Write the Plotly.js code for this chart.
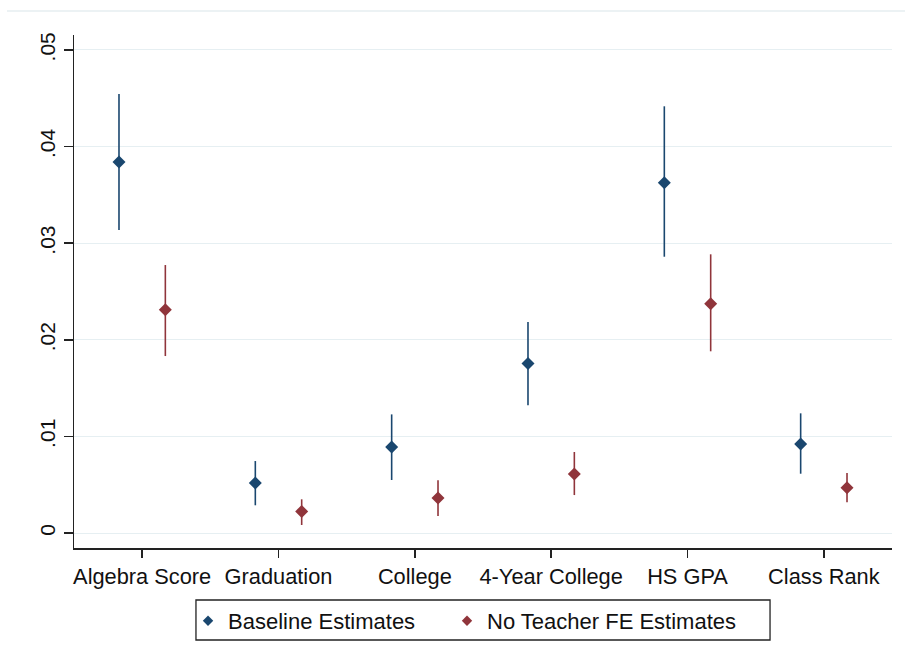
<!DOCTYPE html>
<html>
<head>
<meta charset="utf-8">
<script src="https://cdn.plot.ly/plotly-3.0.1.min.js"></script>
<style>html,body{margin:0;padding:0;background:#fff;}#chart{width:905px;height:666px;}</style>
</head>
<body>
<div id="chart"></div>
<script>
var categories = ["Algebra Score", "Graduation", "College", "4-Year College", "HS GPA", "Class Rank"];
var baselineEst = [0.0384, 0.00518, 0.0089, 0.01756, 0.03626, 0.00921];
var baselineHi  = [0.04545, 0.00745, 0.01228, 0.02184, 0.04417, 0.01239];
var baselineLo  = [0.03137, 0.00287, 0.00549, 0.01322, 0.0286, 0.00614];
var noFEEst = [0.02312, 0.00224, 0.00362, 0.00611, 0.02374, 0.00469];
var noFEHi  = [0.02774, 0.00349, 0.00545, 0.00839, 0.02885, 0.00621];
var noFELo  = [0.01832, 0.00083, 0.00176, 0.00393, 0.01881, 0.00318];
var yTickVals = [0, 0.01, 0.02, 0.03, 0.04, 0.05];
var yTickText = ["0", ".01", ".02", ".03", ".04", ".05"];
var seriesNames = ["Baseline Estimates", "No Teacher FE Estimates"];
var seriesColors = ["#1a476f", "#90353b"];

var offset = 0.17;
var pos = categories.map(function(c, i){ return i + 1; });

function trace(name, est, hi, lo, color, shift) {
  return {
    type: 'scatter', mode: 'markers', name: name, showlegend: false,
    x: pos.map(function(p){ return p + shift; }),
    y: est,
    marker: {symbol: 'diamond', size: 10, color: color},
    error_y: {
      type: 'data', symmetric: false,
      array: hi.map(function(h, i){ return h - est[i]; }),
      arrayminus: lo.map(function(l, i){ return est[i] - l; }),
      color: color, thickness: 1.6, width: 0
    },
    cliponaxis: false
  };
}
function legendTrace(name, color, legendId) {
  return {type: 'scatter', mode: 'markers', name: name, x: [null], y: [null],
          legend: legendId,
          marker: {symbol: 'diamond', size: 8, color: color}, showlegend: true};
}

var data = [
  trace(seriesNames[0], baselineEst, baselineHi, baselineLo, seriesColors[0], -offset),
  trace(seriesNames[1], noFEEst, noFEHi, noFELo, seriesColors[1], offset),
  legendTrace(seriesNames[0], seriesColors[0], 'legend'),
  legendTrace(seriesNames[1], seriesColors[1], 'legend2')
];

var fam = 'Liberation Sans, Arial, sans-serif';

function legendBox(xp) {
  return {
    orientation: 'h',
    x: xp, xanchor: 'left',
    y: -0.1014, yanchor: 'top',
    bgcolor: 'rgba(0,0,0,0)', borderwidth: 0,
    font: {family: fam, size: 22, color: '#111'},
    itemclick: false
  };
}

var layout = {
  width: 905, height: 666,
  margin: {l: 74, r: 13, t: 35, b: 118},
  paper_bgcolor: '#fff', plot_bgcolor: '#fff',
  showlegend: true,
  font: {family: fam, color: '#111'},
  xaxis: {
    range: [0.5, 6.5],
    tickmode: 'array', tickvals: pos, ticktext: categories,
    ticks: 'outside', ticklen: 8, tickwidth: 1.5, tickcolor: '#222',
    showline: true, linecolor: '#222', linewidth: 1.5,
    showgrid: false, zeroline: false,
    tickfont: {family: fam, size: 21.8, color: '#111'}
  },
  yaxis: {
    range: [-0.00155, 0.05155],
    tickmode: 'array', tickvals: yTickVals, ticktext: yTickText,
    ticks: 'outside', ticklen: 9, tickwidth: 1.5, tickcolor: '#222',
    showline: true, linecolor: '#222', linewidth: 1.5,
    showgrid: true, gridcolor: '#e6eff2', gridwidth: 1,
    zeroline: false,
    tickangle: -90,
    tickfont: {family: fam, size: 21, color: '#111'}
  },
  legend: legendBox(0.1394),
  legend2: legendBox(0.456),
  shapes: [{
    type: 'line', xref: 'paper', yref: 'paper',
    x0: -0.0819, x1: 1.0159, y0: 1.0468, y1: 1.0468,
    line: {color: '#e6eef0', width: 1.5}
  }, {
    type: 'rect', xref: 'paper', yref: 'paper',
    x0: 0.1491, x1: 0.8509, y0: -0.1793, y1: -0.1014,
    line: {color: '#222', width: 1.3}, fillcolor: 'rgba(0,0,0,0)'
  }]
};

Plotly.newPlot('chart', data, layout, {staticPlot: true, displayModeBar: false});
</script>
</body>
</html>
